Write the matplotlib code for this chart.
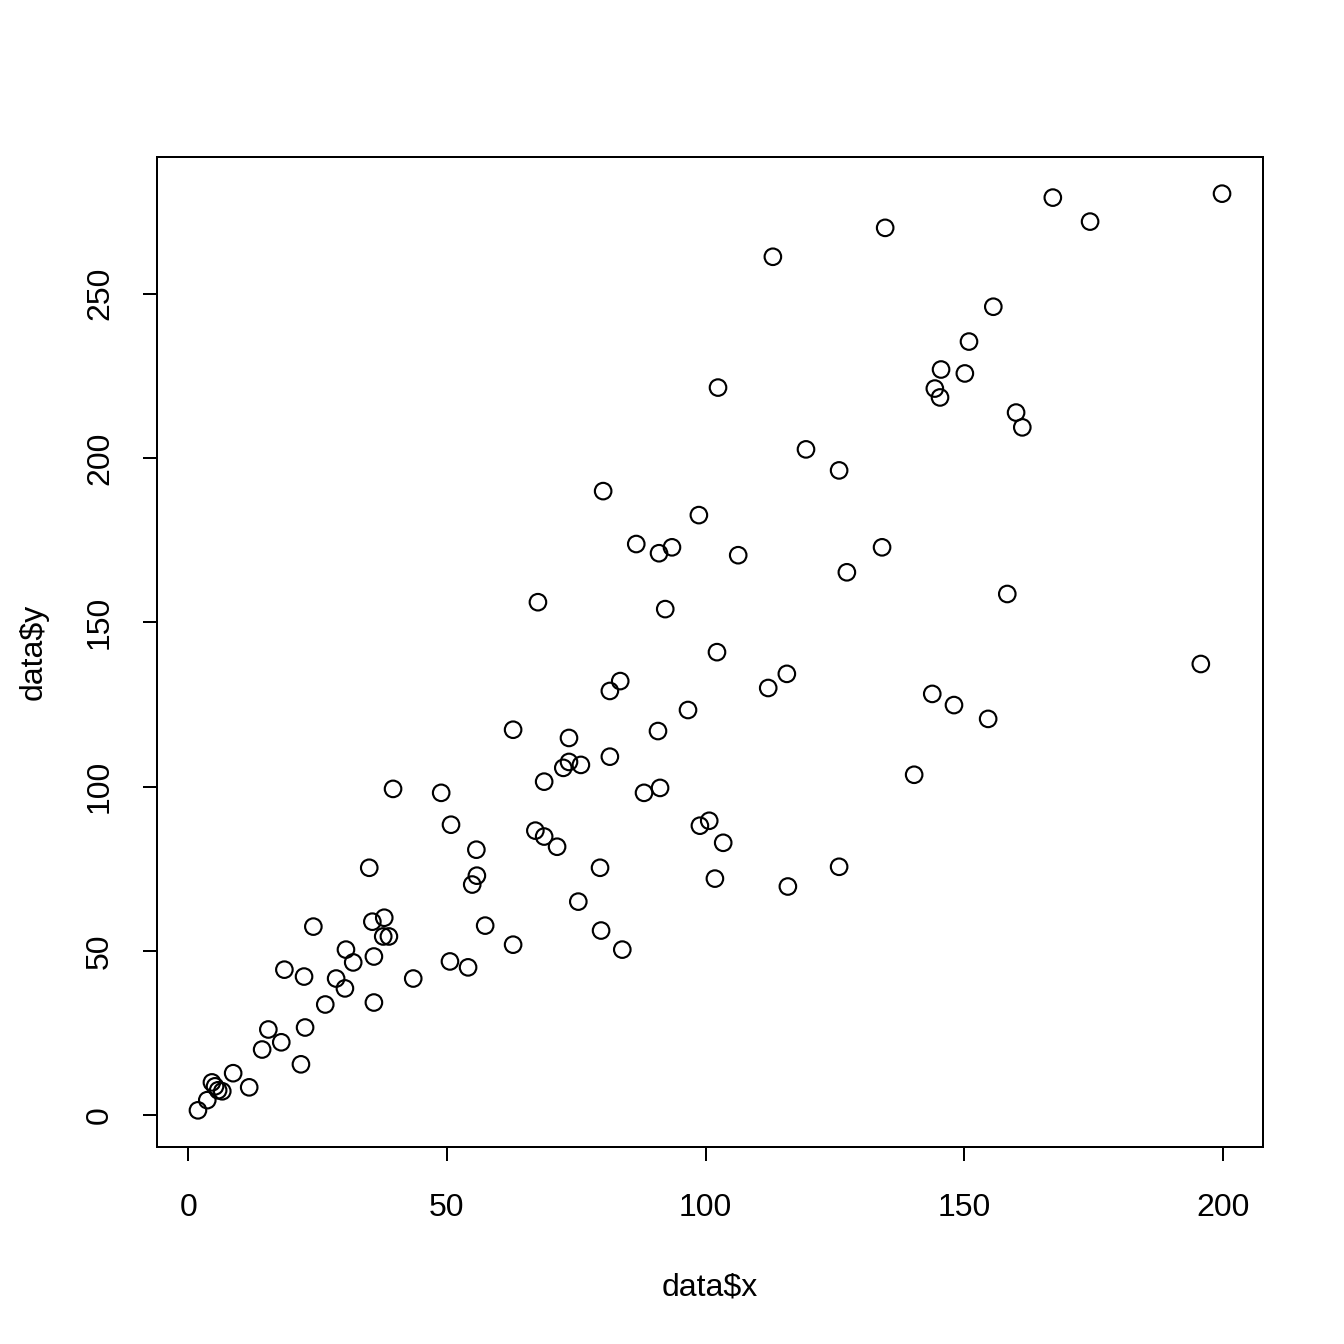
import matplotlib
matplotlib.use("Agg")
import matplotlib.pyplot as plt
import numpy as np

x = [1.9, 3.7, 4.6, 5.2, 5.8, 6.6, 8.7, 11.8, 14.3, 15.5,
     18.0, 18.6, 21.8, 22.4, 22.6, 24.2, 26.5, 28.6, 30.3, 30.5,
     31.9, 35.0, 35.6, 35.9, 35.9, 37.7, 37.9, 38.8, 39.6, 43.5,
     48.9, 50.6, 50.8, 54.1, 54.9, 55.7, 55.8, 57.4, 62.8, 62.8,
     67.1, 67.6, 68.8, 68.8, 71.3, 72.5, 73.6, 73.6, 75.4, 75.9,
     79.6, 79.8, 80.2, 81.5, 81.5, 83.5, 83.9, 86.6, 88.1, 90.8,
     91.0, 91.2, 92.2, 93.5, 96.6, 98.7, 98.9, 100.7, 101.8, 102.2,
     102.4, 103.4, 106.3, 112.1, 113.0, 115.7, 115.9, 119.4, 125.8, 125.8,
     127.3, 134.1, 134.7, 140.3, 143.8, 144.3, 145.3, 145.5, 148.0, 150.1,
     150.9, 154.6, 155.6, 158.3, 160.0, 161.2, 167.1, 174.3, 195.7, 199.8]
y = [1.5, 4.6, 10.0, 8.8, 7.6, 7.3, 12.8, 8.5, 20.0, 26.1,
     22.2, 44.3, 15.5, 42.2, 26.7, 57.4, 33.7, 41.6, 38.6, 50.4,
     46.5, 75.3, 58.9, 48.3, 34.3, 54.4, 60.1, 54.4, 99.3, 41.6,
     98.1, 46.8, 88.4, 45.0, 70.2, 80.8, 72.9, 57.7, 51.9, 117.3,
     86.6, 156.1, 84.8, 101.5, 81.7, 105.7, 107.5, 114.8, 65.0, 106.6,
     75.3, 56.2, 189.9, 129.1, 109.1, 132.1, 50.4, 173.8, 98.1, 116.9,
     171.0, 99.6, 154.0, 172.8, 123.3, 182.6, 88.1, 89.6, 72.0, 140.9,
     221.4, 82.9, 170.4, 130.0, 261.2, 134.3, 69.6, 202.6, 196.2, 75.6,
     165.2, 172.8, 270.0, 103.6, 128.2, 221.1, 218.4, 226.9, 124.8, 225.7,
     235.4, 120.6, 246.0, 158.6, 213.8, 209.3, 279.2, 271.9, 137.3, 280.4]

x_ticks = [0, 50, 100, 150, 200]
y_ticks = [0, 50, 100, 150, 200, 250]
x_label = "data$x"
y_label = "data$y"

plt.rcParams['font.family'] = ['Liberation Sans', 'DejaVu Sans']
fig = plt.figure(figsize=(7, 7), dpi=192)
ax = fig.add_axes([157/1344, 1 - 1147/1344, (1263-157)/1344, (1147-157)/1344])

ax.scatter(x, y, s=6.2**2, facecolors='none', edgecolors='black', linewidths=0.8)

xr = max(x) - min(x)
yr = max(y) - min(y)
ax.set_xlim(min(x) - 0.04*xr, max(x) + 0.04*xr)
ax.set_ylim(min(y) - 0.04*yr, max(y) + 0.04*yr)

ax.set_xticks(x_ticks)
ax.set_yticks(y_ticks)
ax.set_xticklabels([str(t) for t in x_ticks])
ax.set_yticklabels([str(t) for t in y_ticks], rotation=90, va='center')
ax.tick_params(direction='out', length=5.25, width=0.75, labelsize=12)
ax.tick_params(axis='x', pad=12)
ax.tick_params(axis='y', pad=10.5)
for s in ax.spines.values():
    s.set_linewidth(0.75)

ax.set_xlabel(x_label, fontsize=12, labelpad=18.5)
ax.set_ylabel(y_label, fontsize=12, labelpad=13.5)

fig.savefig("out.png", dpi=192)
